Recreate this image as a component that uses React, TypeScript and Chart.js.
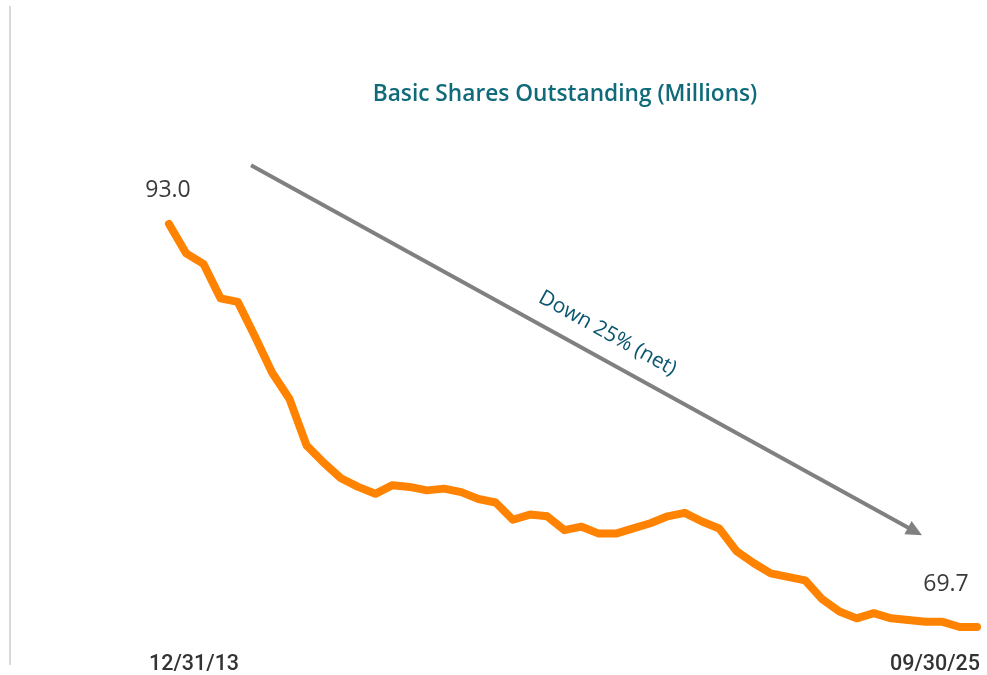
import React, { useEffect, useRef } from "react";
import { Chart, registerables } from "chart.js";

Chart.register(...registerables);

const quarters: string[] = [
  "Q4'13",
  "Q1'14", "Q2'14", "Q3'14", "Q4'14",
  "Q1'15", "Q2'15", "Q3'15", "Q4'15",
  "Q1'16", "Q2'16", "Q3'16", "Q4'16",
  "Q1'17", "Q2'17", "Q3'17", "Q4'17",
  "Q1'18", "Q2'18", "Q3'18", "Q4'18",
  "Q1'19", "Q2'19", "Q3'19", "Q4'19",
  "Q1'20", "Q2'20", "Q3'20", "Q4'20",
  "Q1'21", "Q2'21", "Q3'21", "Q4'21",
  "Q1'22", "Q2'22", "Q3'22", "Q4'22",
  "Q1'23", "Q2'23", "Q3'23", "Q4'23",
  "Q1'24", "Q2'24", "Q3'24", "Q4'24",
  "Q1'25", "Q2'25", "Q3'25",
];

const sharesOutstanding: number[] = [
  93.0, 91.3, 90.7, 88.7, 88.5, 86.5, 84.4, 82.9, 80.2, 79.2,
  78.3, 77.8, 77.4, 77.9, 77.8, 77.6, 77.7, 77.5, 77.1, 76.9,
  75.9, 76.2, 76.1, 75.3, 75.5, 75.1, 75.1, 75.4, 75.7, 76.1,
  76.3, 75.8, 75.4, 74.1, 73.4, 72.8, 72.6, 72.4, 71.3, 70.6,
  70.2, 70.5, 70.2, 70.1, 70.0, 70.0, 69.7, 69.7,
];

const axisLabels: string[] = ["12/31/13", "09/30/25"];
const titleText = "Basic Shares Outstanding (Millions)";
const arrowText = "Down 25% (net)";
// arrow endpoints in data space (quarter index, value)
const arrowStart = { x: 4.77, y: 96.4 };
const arrowEnd = { x: 43.8, y: 75.0 };

const overlayPlugin = {
  id: "overlay",
  afterDatasetsDraw(chart: any) {
    const { ctx, scales } = chart;
    const xs = scales.x;
    const ys = scales.y;
    const n = sharesOutstanding.length;
    ctx.save();

    // title
    ctx.fillStyle = "#0f6a79";
    ctx.font = "600 22.7px 'Open Sans', 'Noto Sans', sans-serif";
    ctx.textAlign = "center";
    ctx.textBaseline = "middle";
    ctx.fillText(titleText, 565, 95);

    // arrow
    const x1 = xs.getPixelForValue(arrowStart.x);
    const y1 = ys.getPixelForValue(arrowStart.y);
    const x2 = xs.getPixelForValue(arrowEnd.x);
    const y2 = ys.getPixelForValue(arrowEnd.y);
    const ang = Math.atan2(y2 - y1, x2 - x1);
    const headLen = 16;
    const headW = 7.5;
    ctx.strokeStyle = "#808080";
    ctx.fillStyle = "#808080";
    ctx.lineWidth = 4;
    ctx.beginPath();
    ctx.moveTo(x1, y1);
    ctx.lineTo(x2 - Math.cos(ang) * (headLen - 2), y2 - Math.sin(ang) * (headLen - 2));
    ctx.stroke();
    ctx.beginPath();
    ctx.moveTo(x2, y2);
    const bx = x2 - Math.cos(ang) * headLen;
    const by = y2 - Math.sin(ang) * headLen;
    ctx.lineTo(bx + Math.sin(ang) * headW, by - Math.cos(ang) * headW);
    ctx.lineTo(bx - Math.sin(ang) * headW, by + Math.cos(ang) * headW);
    ctx.closePath();
    ctx.fill();

    // arrow text
    const mx = (x1 + x2) / 2;
    const my = (y1 + y2) / 2;
    const off = 25;
    ctx.translate(mx + Math.sin(ang) * off + 9, my - Math.cos(ang) * off + 5);
    ctx.rotate(ang);
    ctx.fillStyle = "#0a5670";
    ctx.font = "21px 'Open Sans', 'Noto Sans', sans-serif";
    ctx.textAlign = "center";
    ctx.textBaseline = "middle";
    ctx.fillText(arrowText, 0, 0);
    ctx.setTransform(1, 0, 0, 1, 0, 0);

    // value labels
    ctx.fillStyle = "#3a3a3a";
    ctx.font = "23px 'Open Sans', 'Noto Sans', sans-serif";
    ctx.textAlign = "center";
    ctx.textBaseline = "middle";
    const fx = xs.getPixelForValue(0);
    const fy = ys.getPixelForValue(sharesOutstanding[0]);
    ctx.fillText(sharesOutstanding[0].toFixed(1), fx - 1, fy - 34);
    const lx = xs.getPixelForValue(n - 1);
    const ly = ys.getPixelForValue(sharesOutstanding[n - 1]);
    ctx.fillText(sharesOutstanding[n - 1].toFixed(1), lx - 31, ly - 43);

    // axis date labels
    ctx.fillStyle = "#333333";
    ctx.font = "500 21.5px Roboto, 'Liberation Sans', sans-serif";
    ctx.fillText(axisLabels[0], fx + 25, 665);
    ctx.fillText(axisLabels[1], lx - 42, 665);

    ctx.restore();
  },
};

export default function App() {
  const canvasRef = useRef<HTMLCanvasElement | null>(null);

  useEffect(() => {
    const canvas = canvasRef.current;
    if (!canvas) return;
    const chart = new Chart(canvas, {
      type: "line",
      data: {
        labels: quarters,
        datasets: [
          {
            label: "Basic Shares Outstanding",
            data: sharesOutstanding.map((v, i) => ({ x: i, y: v })),
            borderColor: "#ff8200",
            borderWidth: 8,
            borderJoinStyle: "round",
            borderCapStyle: "round",
            pointRadius: 0,
            tension: 0,
            clip: false as any,
          },
        ],
      },
      options: {
        responsive: false,
        animation: false,
        layout: { padding: { left: 10, right: 10, top: 7, bottom: 11 } },
        plugins: {
          legend: { display: false },
          tooltip: { enabled: false },
          title: { display: false },
        },
        scales: {
          x: {
            type: "linear",
            display: false,
            min: -9.25,
            max: 47,
          },
          y: {
            display: true,
            min: 67.56,
            max: 105.55,
            grid: { display: false },
            ticks: { display: false },
            border: { display: true, color: "#d9d9d9", width: 2 },
            afterFit: (s: any) => {
              s.width = 0;
            },
          },
        },
      },
      plugins: [overlayPlugin],
    });
    return () => chart.destroy();
  }, []);

  return (
    <div style={{ position: "absolute", left: 0, top: 0, width: 987, height: 675, background: "#fff" }}>
      <canvas ref={canvasRef} width={987} height={675} />
    </div>
  );
}
